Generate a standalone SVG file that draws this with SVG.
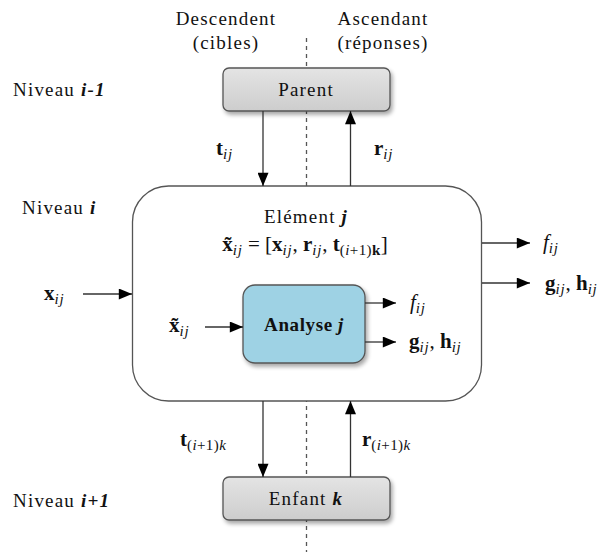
<svg xmlns="http://www.w3.org/2000/svg" width="605" height="552" viewBox="0 0 605 552">
<defs>
<marker id="ahw" viewBox="0 0 12 10" refX="12" refY="5" markerWidth="14" markerHeight="11" markerUnits="userSpaceOnUse" orient="auto">
<path d="M0,0 L12,5 L0,10 z" fill="#000"/>
</marker>
<filter id="sh" x="-20%" y="-20%" width="140%" height="150%">
<feGaussianBlur in="SourceAlpha" stdDeviation="2"/>
<feOffset dx="2" dy="3" result="o"/>
<feComponentTransfer><feFuncA type="linear" slope="0.35"/></feComponentTransfer>
<feMerge><feMergeNode/><feMergeNode in="SourceGraphic"/></feMerge>
</filter>
<linearGradient id="gg" x1="0" y1="0" x2="0" y2="1">
<stop offset="0" stop-color="#e4e4e4"/><stop offset="1" stop-color="#cdcdcd"/>
</linearGradient>
</defs>
<style>
text{font-family:"Liberation Serif","Times New Roman",serif;font-size:19px;fill:#111}
.t{letter-spacing:1.2px}
.m{font-size:21px}
.b{font-weight:bold}
.i{font-style:italic}
.s{font-size:15px;font-style:italic;letter-spacing:0.8px}
.p{font-size:15px;letter-spacing:0.4px}
.c{text-anchor:middle}
.ln{stroke:#333;stroke-width:1.3;fill:none}
.box{stroke:#555;stroke-width:1.3}
</style>
<line x1="306.5" y1="38" x2="306.5" y2="552" stroke="#555" stroke-width="1.3" stroke-dasharray="4,4"/>
<text class="c t" x="226" y="25">Descendent</text>
<text class="c t" x="226" y="49">(cibles)</text>
<text class="c t" x="383" y="25">Ascendant</text>
<text class="c t" x="383" y="49">(réponses)</text>
<text class="t" x="13" y="96">Niveau <tspan class="i b">i-1</tspan></text>
<text class="t" x="22" y="214">Niveau <tspan class="i b">i</tspan></text>
<text class="t" x="13" y="507">Niveau <tspan class="i b">i+1</tspan></text>
<g id="parent">
<rect class="box" x="223" y="68" width="167" height="43" rx="6" fill="url(#gg)" filter="url(#sh)"/>
<text class="c t" x="306" y="96">Parent</text>
</g>
<g id="element">
<rect x="132.5" y="186" width="349" height="215" rx="36" fill="#fff" stroke="#555" stroke-width="1.3"/>
<text class="c t" x="306" y="223">Elément <tspan class="i b">j</tspan></text>
<text class="c m" x="305" y="251"><tspan class="b">x̃</tspan><tspan class="s" dy="4">ij</tspan><tspan dy="-4"> = [</tspan><tspan class="b">x</tspan><tspan class="s" dy="4">ij</tspan><tspan dy="-4">, </tspan><tspan class="b">r</tspan><tspan class="s" dy="4">ij</tspan><tspan dy="-4">, </tspan><tspan class="b">t</tspan><tspan dy="4" class="p">(<tspan class="i">i</tspan>+1)<tspan class="b">k</tspan></tspan><tspan dy="-4">]</tspan></text>
</g>
<g id="analyse">
<rect class="box" x="243" y="285" width="122" height="78" rx="12" fill="#9ed2e4" filter="url(#sh)"/>
<text class="c b" x="304" y="331" style="letter-spacing:0.6px">Analyse <tspan class="i">j</tspan></text>
</g>
<g id="enfant">
<rect class="box" x="223" y="477" width="167" height="43" rx="6" fill="url(#gg)" filter="url(#sh)"/>
<text class="c t" x="306" y="505">Enfant <tspan class="i b">k</tspan></text>
</g>
<g id="connectors">
<line class="ln" x1="263" y1="111" x2="263" y2="186" marker-end="url(#ahw)"/>
<line class="ln" x1="350.5" y1="186" x2="350.5" y2="111" marker-end="url(#ahw)"/>
<line class="ln" x1="263" y1="401" x2="263" y2="477" marker-end="url(#ahw)"/>
<line class="ln" x1="350.5" y1="477" x2="350.5" y2="401" marker-end="url(#ahw)"/>
<line class="ln" x1="83" y1="294" x2="132" y2="294" marker-end="url(#ahw)"/>
<line class="ln" x1="205" y1="327" x2="243" y2="327" marker-end="url(#ahw)"/>
<line class="ln" x1="365" y1="303" x2="396" y2="303" marker-end="url(#ahw)"/>
<line class="ln" x1="365" y1="342" x2="396" y2="342" marker-end="url(#ahw)"/>
<line class="ln" x1="482" y1="243" x2="530" y2="243" marker-end="url(#ahw)"/>
<line class="ln" x1="482" y1="283" x2="530" y2="283" marker-end="url(#ahw)"/>
</g>
<g id="labels">
<text class="m" x="216" y="155"><tspan class="b">t</tspan><tspan class="s" dy="4">ij</tspan></text>
<text class="m" x="374" y="155"><tspan class="b">r</tspan><tspan class="s" dy="4">ij</tspan></text>
<text class="m" x="44" y="300"><tspan class="b">x</tspan><tspan class="s" dy="4">ij</tspan></text>
<text class="m" x="169" y="332"><tspan class="b">x̃</tspan><tspan class="s" dy="4">ij</tspan></text>
<text class="m" x="410" y="309"><tspan class="i">f</tspan><tspan class="s" dy="4">ij</tspan></text>
<text class="m" x="409" y="348"><tspan class="b">g</tspan><tspan class="s" dy="4">ij</tspan><tspan dy="-4">, </tspan><tspan class="b">h</tspan><tspan class="s" dy="4">ij</tspan></text>
<text class="m" x="543" y="249"><tspan class="i">f</tspan><tspan class="s" dy="4">ij</tspan></text>
<text class="m" x="545" y="290"><tspan class="b">g</tspan><tspan class="s" dy="4">ij</tspan><tspan dy="-4">, </tspan><tspan class="b">h</tspan><tspan class="s" dy="4">ij</tspan></text>
<text class="m" x="180" y="446"><tspan class="b">t</tspan><tspan dy="4" class="p">(<tspan class="i">i</tspan>+1)<tspan class="i">k</tspan></tspan></text>
<text class="m" x="362" y="446"><tspan class="b">r</tspan><tspan dy="4" class="p">(<tspan class="i">i</tspan>+1)<tspan class="i">k</tspan></tspan></text>
</g>
</svg>
